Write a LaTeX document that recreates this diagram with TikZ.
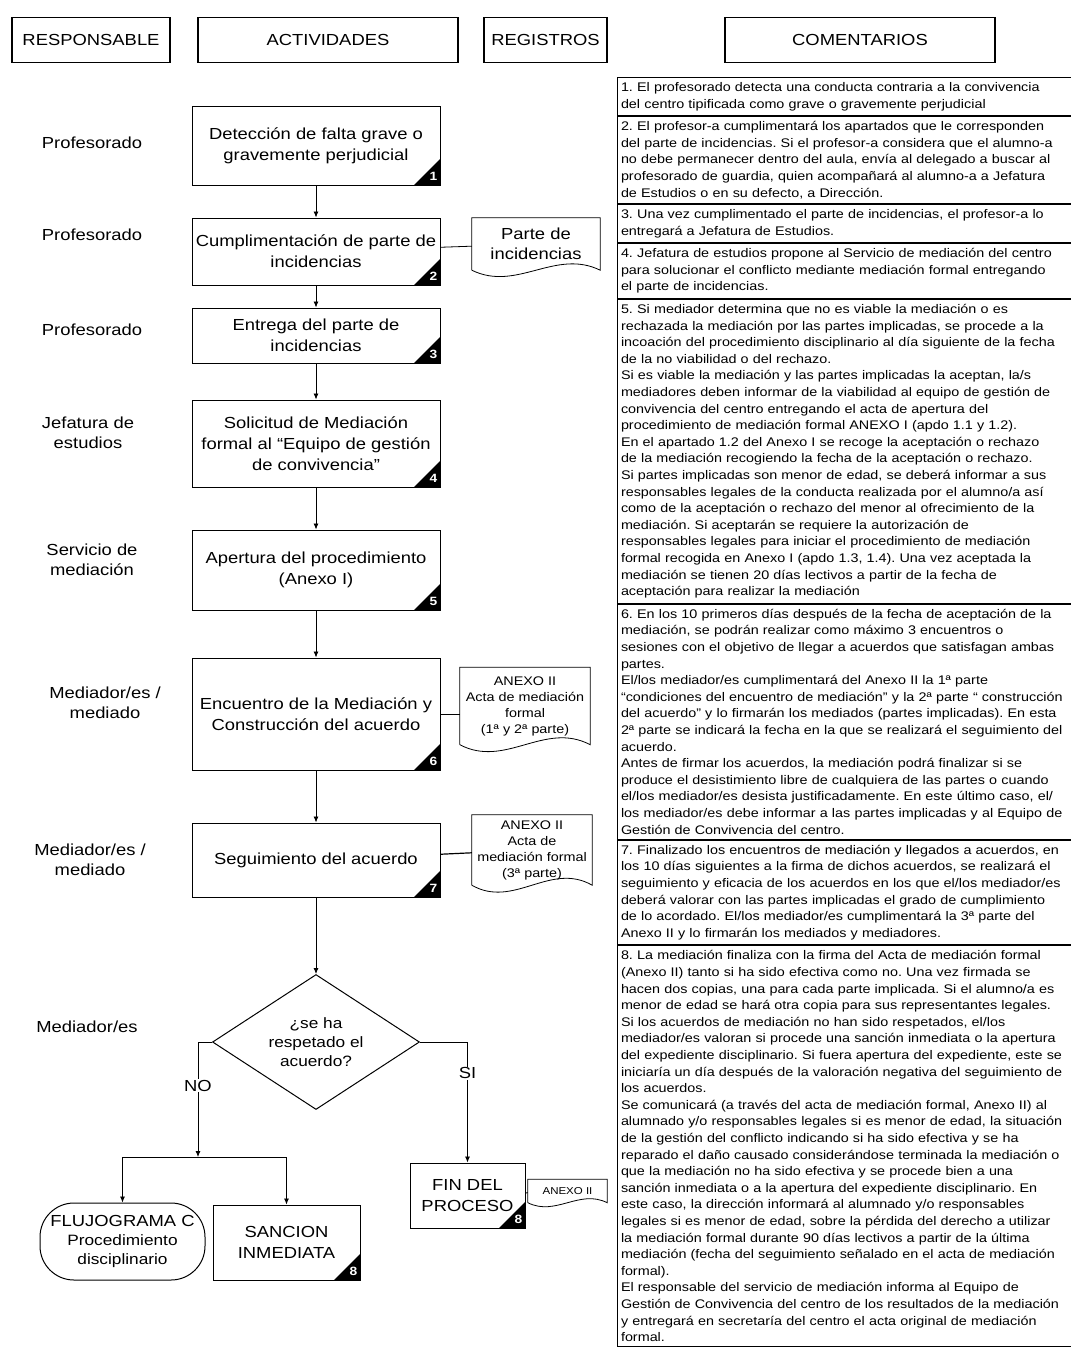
\documentclass[tikz,border=0pt]{standalone}
\usepackage{fontspec}
\setmainfont[FakeStretch=1.15]{Liberation Sans}
\usetikzlibrary{positioning,shapes.geometric,arrows.meta,calc}
\frenchspacing

\newcommand{\stepmark}[2]{%
  \fill (#1.south east) -- ++(-27,0) -- ++(27,-27) -- cycle;
  \node[text=white, font=\bfseries\fontsize{12}{12}\selectfont]
    at ($(#1.south east)+(-7,-9)$) {#2};}
\newcommand{\docoutline}[2]{%
  \draw[line width=0.8pt] (#1.south west) -- (#1.north west) -- (#1.north east)
    -- (#1.south east) .. controls ($(#1.south east)!0.35!(#1.south west)+(0,-#2)$)
    and ($(#1.south east)!0.65!(#1.south west)+(0,#2)$) .. (#1.south west);}

\begin{document}
\begin{tikzpicture}[x=1pt,y=-1pt,
head/.style ={rectangle, draw, line width=1.2pt, minimum height=45pt,
  font=\fontsize{16}{19}\selectfont
},
act/.style ={rectangle, draw, line width=1pt, minimum width=248pt,
  align=center, font=\fontsize{16}{21}\selectfont
},
who/.style ={align=center, font=\fontsize{16}{20}\selectfont},
doc/.style ={align=center, inner sep=0pt, font=\fontsize{12.5}{16}\selectfont},
ask/.style ={diamond, draw, line width=1pt, aspect=1.5,
  minimum width=207pt, minimum height=135pt, inner sep=0pt,
  align=center, font=\fontsize{15}{19}\selectfont
},
note/.style ={rectangle, draw, line width=0.8pt, text width=446pt,
  inner xsep=4pt, inner ysep=5pt, align=left,
  font=\fontsize{12.5}{16.6}\selectfont
},
arr/.style ={-{Latex[length=6pt,width=5pt]}, line width=0.8pt}
]
\useasboundingbox (0,0) rectangle (1071,1350);

% column headers
\node (hresp) at (91,40) [head, minimum width=158pt] {RESPONSABLE};
\node (hact) at (328,40) [head, minimum width=260pt] {ACTIVIDADES};
\node (hreg) at (545.5,40) [head, minimum width=123pt] {REGISTROS};
\node (hcom) at (860,40) [head, minimum width=270pt] {COMENTARIOS};

% responsables
\node (r1) at (92,143) [who] {Profesorado};
\node (r2) at (92,235) [who] {Profesorado};
\node (r3) at (92,330) [who] {Profesorado};
\node (r4) at (88,433) [who] {Jefatura de\\estudios};
\node (r5) at (92,560) [who] {Servicio de\\mediación};
\node (r6) at (105,703) [who] {Mediador/es /\\mediado};
\node (r7) at (90,860) [who] {Mediador/es /\\mediado};
\node (r8) at (87,1027) [who] {Mediador/es};

% actividades
\node (det) at (316,145.5) [act, minimum height=79pt] {Detección de falta grave o\\gravemente perjudicial};
\node (cump) at (316,251.5) [act, minimum height=67pt] {Cumplimentación de parte de\\incidencias};
\node (ent) at (316,335.5) [act, minimum height=55pt] {Entrega del parte de\\incidencias};
\node (sol) at (316,443.5) [act, minimum height=87pt] {Solicitud de Mediación\\formal al “Equipo de gestión\\de convivencia”};
\node (ape) at (316,570) [act, minimum height=80pt] {Apertura del procedimiento\\(Anexo I)};
\node (enc) at (316,714) [act, minimum height=112pt] {Encuentro de la Mediación y\\Construcción del acuerdo};
\node (seg) at (316,860) [act, minimum height=74pt] {Seguimiento del acuerdo};
\node (dec) at (316,1042) [ask] {¿se ha\\respetado el\\acuerdo?};
\node (flu) at (122.5,1241.5) [draw, line width=1pt, rounded corners=34pt,
  minimum width=165pt, minimum height=77pt, inner sep=0pt, align=center,
  font=\fontsize{15}{19}\selectfont] {{\fontsize{16}{19}\selectfont FLUJOGRAMA C}\\Procedimiento\\disciplinario};
\node (san) at (286.5,1242.5) [act, minimum width=147pt, minimum height=75pt] {SANCION\\INMEDIATA};
\node (fin) at (467.5,1195.5) [act, minimum width=115pt, minimum height=65pt] {FIN DEL\\PROCESO};
\foreach \b/\n in {det/1,cump/2,ent/3,sol/4,ape/5,enc/6,seg/7,san/8,fin/8}
  \stepmark{\b}{\n};

% registros
\node (dpart) at (536,244) [doc, minimum width=128pt, minimum height=52pt,
  font=\fontsize{16}{20}\selectfont] {Parte de\\incidencias};
\node (danx1) at (525,706) [doc, minimum width=130pt, minimum height=77pt] {ANEXO II\\Acta de mediación\\formal\\(1ª y 2ª parte)};
\node (danx2) at (532,850) [doc, minimum width=120pt, minimum height=70pt] {ANEXO II\\Acta de\\mediación formal\\(3ª parte)};
\node (danx3) at (567.5,1191) [doc, minimum width=79pt, minimum height=23pt,
  font=\fontsize{10}{12}\selectfont] {ANEXO II};
\docoutline{dpart}{22}
\docoutline{danx1}{24}
\docoutline{danx2}{24}
\docoutline{danx3}{14}

% comentarios
\node (c1) at (844,77) [note, anchor=north] {1. El profesorado detecta una conducta contraria a la convivencia\\
del centro tipificada como grave o gravemente perjudicial};
\node (c2) [note, below=0pt of c1] {2. El profesor-a cumplimentará los apartados que le corresponden\\
del parte de incidencias. Si el profesor-a considera que el alumno-a\\
no debe permanecer dentro del aula, envía al delegado a buscar al\\
profesorado de guardia, quien acompañará al alumno-a a Jefatura\\
de Estudios o en su defecto, a Dirección.};
\node (c3) [note, below=0pt of c2] {3. Una vez cumplimentado el parte de incidencias, el profesor-a lo\\
entregará a Jefatura de Estudios.};
\node (c4) [note, below=0pt of c3] {4. Jefatura de estudios propone al Servicio de mediación del centro\\
para solucionar el conflicto mediante mediación formal entregando\\
el parte de incidencias.};
\node (c5) [note, below=0pt of c4] {5. Si mediador determina que no es viable la mediación o es\\
rechazada la mediación por las partes implicadas, se procede a la\\
incoación del procedimiento disciplinario al día siguiente de la fecha\\
de la no viabilidad o del rechazo.\\
Si es viable la mediación y las partes implicadas la aceptan, la/s\\
mediadores deben informar de la viabilidad al equipo de gestión de\\
convivencia del centro entregando el acta de apertura del\\
procedimiento de mediación formal ANEXO I (apdo 1.1 y 1.2).\\
En el apartado 1.2 del Anexo I se recoge la aceptación o rechazo\\
de la mediación recogiendo la fecha de la aceptación o rechazo.\\
Si partes implicadas son menor de edad, se deberá informar a sus\\
responsables legales de la conducta realizada por el alumno/a así\\
como de la aceptación o rechazo del menor al ofrecimiento de la\\
mediación. Si aceptarán se requiere la autorización de\\
responsables legales para iniciar el procedimiento de mediación\\
formal recogida en Anexo I (apdo 1.3, 1.4). Una vez aceptada la\\
mediación se tienen 20 días lectivos a partir de la fecha de\\
aceptación para realizar la mediación};
\node (c6) [note, below=0pt of c5] {6. En los 10 primeros días después de la fecha de aceptación de la\\
mediación, se podrán realizar como máximo 3 encuentros o\\
sesiones con el objetivo de llegar a acuerdos que satisfagan ambas\\
partes.\\
El/los mediador/es cumplimentará del Anexo II la 1ª parte\\
“condiciones del encuentro de mediación” y la 2ª parte “ construcción\\
del acuerdo” y lo firmarán los mediados (partes implicadas). En esta\\
2ª parte se indicará la fecha en la que se realizará el seguimiento del\\
acuerdo.\\
Antes de firmar los acuerdos, la mediación podrá finalizar si se\\
produce el desistimiento libre de cualquiera de las partes o cuando\\
el/los mediador/es desista justificadamente. En este último caso, el/\\
los mediador/es debe informar a las partes implicadas y al Equipo de\\
Gestión de Convivencia del centro.};
\node (c7) [note, below=0pt of c6] {7. Finalizado los encuentros de mediación y llegados a acuerdos, en\\
los 10 días siguientes a la firma de dichos acuerdos, se realizará el\\
seguimiento y eficacia de los acuerdos en los que el/los mediador/es\\
deberá valorar con las partes implicadas el grado de cumplimiento\\
de lo acordado. El/los mediador/es cumplimentará la 3ª parte del\\
Anexo II y lo firmarán los mediados y mediadores.};
\node (c8) [note, below=0pt of c7] {8. La mediación finaliza con la firma del Acta de mediación formal\\
(Anexo II) tanto si ha sido efectiva como no. Una vez firmada se\\
hacen dos copias, una para cada parte implicada. Si el alumno/a es\\
menor de edad se hará otra copia para sus representantes legales.\\
Si los acuerdos de mediación no han sido respetados, el/los\\
mediador/es valoran si procede una sanción inmediata o la apertura\\
del expediente disciplinario. Si fuera apertura del expediente, este se\\
iniciaría un día después de la valoración negativa del seguimiento de\\
los acuerdos.\\
Se comunicará (a través del acta de mediación formal, Anexo II) al\\
alumnado y/o responsables legales si es menor de edad, la situación\\
de la gestión del conflicto indicando si ha sido efectiva y se ha\\
reparado el daño causado considerándose terminada la mediación o\\
que la mediación no ha sido efectiva y se procede bien a una\\
sanción inmediata o a la apertura del expediente disciplinario. En\\
este caso, la dirección informará al alumnado y/o responsables\\
legales si es menor de edad, sobre la pérdida del derecho a utilizar\\
la mediación formal durante 90 días lectivos a partir de la última\\
mediación (fecha del seguimiento señalado en el acta de mediación\\
formal).\\
El responsable del servicio de mediación informa al Equipo de\\
Gestión de Convivencia del centro de los resultados de la mediación\\
y entregará en secretaría del centro el acta original de mediación\\
formal.};

% connectors
\draw[arr] (det) -- (cump);
\draw[arr] (cump) -- (ent);
\draw[arr] (ent) -- (sol);
\draw[arr] (sol) -- (ape);
\draw[arr] (ape) -- (enc);
\draw[arr] (enc) -- (seg);
\draw[arr] (seg) -- (dec);
\draw[line width=0.8pt] (cump) -- (dpart);
\draw[line width=0.8pt] (enc) -- (enc -| danx1.west);
\draw[line width=1.2pt] (seg) -- (danx2);
\draw[line width=0.8pt] (fin) -- (danx3);
\coordinate (jno) at (198,1157);
\draw[arr] (dec.west) -| node[pos=0.69, fill=white, inner sep=1pt,
  font=\fontsize{16}{19}\selectfont] {NO} (jno);
\draw[line width=0.8pt] (flu.north |- jno) -- (san.north |- jno);
\draw[arr] (flu.north |- jno) -- (flu);
\draw[arr] (san.north |- jno) -- (san);
\draw[arr] (dec.east) -| node[pos=0.63, fill=white, inner sep=1pt,
  font=\fontsize{16}{19}\selectfont] {SI} (fin);
\end{tikzpicture}
\end{document}
